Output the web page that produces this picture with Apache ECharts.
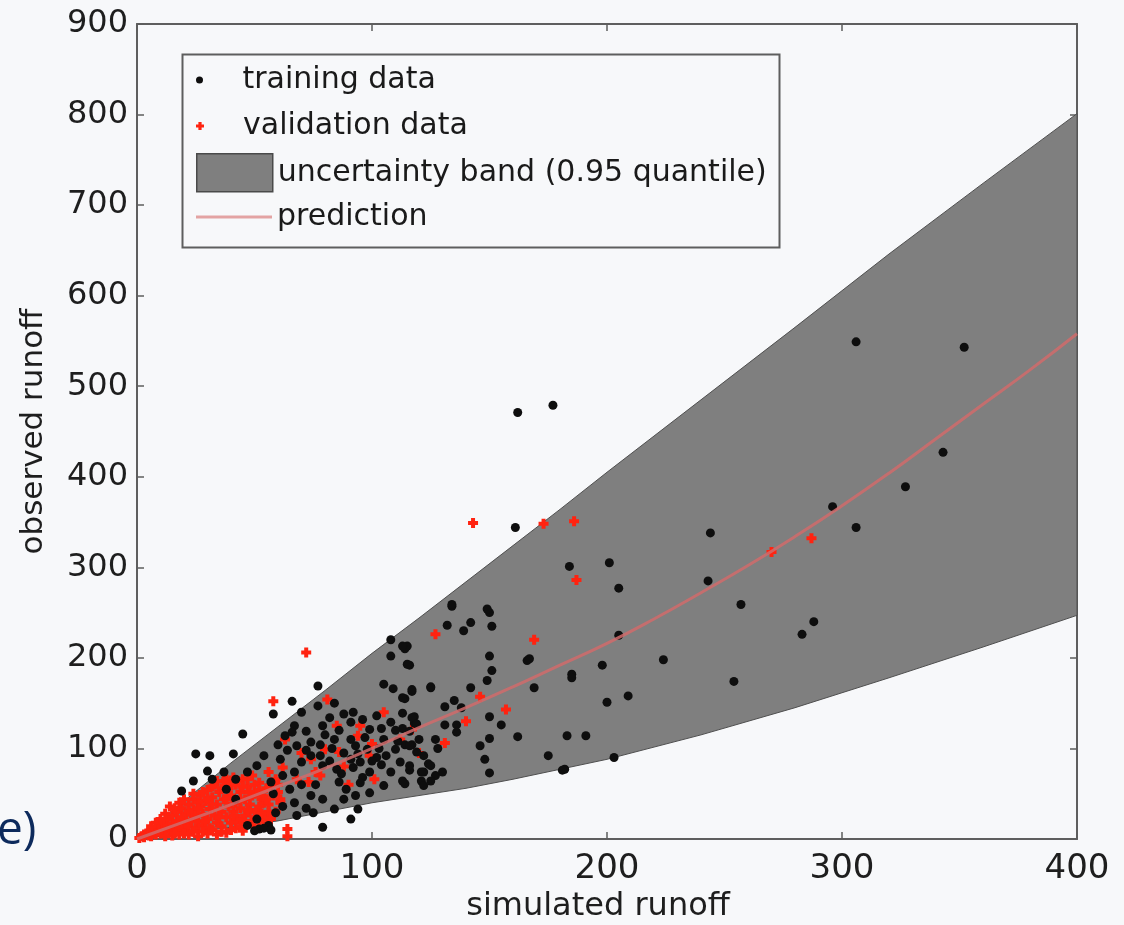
<!DOCTYPE html>
<html>
<head>
<meta charset="utf-8">
<title>observed vs simulated runoff</title>
<script src="https://cdn.jsdelivr.net/npm/echarts@6/dist/echarts.min.js"></script>
<style>
  html, body { margin: 0; padding: 0; background: #f7f8fa; }
  #chart { width: 1124px; height: 925px; }
</style>
</head>
<body>
<div id="chart"></div>
<script>
// Axis ticks
const xTicks = [0, 100, 200, 300, 400];
const yTicks = [0, 100, 200, 300, 400, 500, 600, 700, 800, 900];

// Calibration points: [simulated, observed]
const trainingPoints = [
  [306,549],[352,543],[162,471],[177,479],[161,344],[343,427],[327,389],[296,367],[306,344],
  [244,338],[243,285],[257,259],[184,301],[201,305],[205,277],[205,225],[283,226],[288,240],
  [224,198],[209,158],[185,182],[198,192],[254,174],[183,114],[191,114],[182,77],[203,90],
  [134,257],[150,250],[132,236],[142,239],[139,230],[151,235],[114,210],[116,192],[150,202],
  [166,197],[151,186],[149,175],[185,178],[125,167],[142,167],[117,163],[114,155],[169,167],
  [200,151],[135,153],[138,145],[131,146],[113,139],[118,135],[118,128],[113,122],[116,119],
  [131,126],[136,126],[150,135],[155,126],[136,118],[114,104],[117,104],[146,103],[150,111],
  [162,113],[148,88],[150,73],[175,92],[181,76],[116,76],[124,83],[122,74],[127,70],[130,74],
  [121,64],[114,61],[115,213],[149,254],[167,199],[134,259],
  [108,220],[113,213],[108,202],[115,193],[125,168],[105,171],[109,166],[117,165],[113,156],
  [77,169],[58,138],[45,116],[25,94],[31,92],[41,94],[30,75],[24,64],[19,53],[79,13],[91,22],
  [94,33],[52,11],[56,15],[67,40],[77,147],[82,134],[88,138],[91,129],[99,121],[102,136],
  [108,129],[117,134],[119,127],[120,110],[98,99],[102,90],[112,85],[116,81],[121,74],[125,64],
  [122,59],[113,64],[105,59],[99,51],[93,48],[86,63],[85,77],[92,79],[79,81],[74,92],[68,103],
  [63,114],[67,125],[72,119],[79,125],[84,110],[91,110],[93,103],[74,107],[67,74],[61,88],
  [54,92],[51,81],[57,63],[65,55],[74,48],[79,44],[84,33],[75,29],[68,26],[59,29],[51,22],
  [47,15],[42,44],[38,55],[42,66],[47,74],[37,74],[32,66],[105,110],[110,99],[99,74],[91,88],
  [108,74],[116,103],[122,92],[125,81],[62,70],[70,60],[88,95],[95,85],[83,100],[76,60],
  [89,55],[96,68],[104,82],[110,120],[70,85],[58,50],[64,98],[80,115],[97,112],[103,100],
  [86,120],[92,140],[70,140],[66,152],[84,150],[54,12],[50,9],[57,10],
  [60,104],[72,98],[78,92],[82,86],[87,72],[94,94],[100,86],[106,92],[111,108],[95,62],
  [88,44],[72,34],[62,36],[66,118],[78,104],[96,132],[104,122],[119,96],[128,100],[127,110]
];

// Validation points: [simulated, observed]
const validationPoints = [
  [72,206],[58,152],[143,349],[173,348],[186,351],[127,226],[169,220],[187,286],[270,317],
  [287,332],[157,143],[131,106],[146,157],[117,121],[64,11],[64,3],
  [57,59],[59,66],[56,74],[62,79],[68,66],[73,63],[76,74],[74,88],[80,99],[86,96],[94,114],
  [99,92],[101,66],[85,125],[81,154],[61,44],[54,40],[63,110],[49,48],
  [112,110],[120,95],[140,130],[105,140],[95,125],[100,105],[88,80],[70,95],[78,70],[90,60],
  [1,1],[2,3],[3,2],[3,5],[4,6],[5,4],[5,8],[6,3],[6,10],[7,6],[8,12],[8,5],[9,9],[10,14],
  [10,6],[11,18],[11,10],[12,8],[13,15],[13,22],[14,11],[15,26],[15,17],[16,9],[17,20],
  [17,30],[18,13],[19,24],[19,34],[20,10],[20,17],[21,28],[22,38],[22,14],[23,21],[24,32],
  [24,44],[25,12],[25,26],[26,19],[27,36],[27,48],[28,15],[28,28],[29,42],[30,22],[30,54],
  [31,33],[31,12],[32,46],[33,26],[33,60],[34,18],[34,38],[35,52],[36,30],[36,14],[37,44],
  [37,64],[38,24],[39,36],[39,56],[40,18],[40,48],[41,30],[42,60],[42,40],[43,22],[44,52],
  [44,34],[45,66],[46,44],[46,26],[47,58],[48,38],[49,70],[49,20],[50,50],[51,32],[52,62],
  [53,44],[54,26],[55,56],[56,38],[58,48],[59,30],[60,60],[61,40],
  [8,18],[12,28],[14,36],[18,40],[10,22],[6,14],[16,34],
  [15,4],[22,5],[30,6],[38,7],[45,9],[26,3],[34,5],[42,12],[50,14],[55,16],[12,3],[18,5],
  [26,40],[28,52],[30,44],[32,58],[34,64],[36,56],[38,66],[40,60],[41,68],[43,64],[45,58],
  [47,66],[48,52],[50,60],[52,54],[53,48],[24,50],[20,44],[22,30],[26,34],[32,38],[38,44],
  [44,42],[48,30],[52,36],[55,44],[56,30],[50,24],[46,18],[40,10],[36,8],[32,10],[28,8],
  [24,8],[20,6],[16,6],[44,14],[52,20],[57,22],[60,52],[58,62],[29,20],[35,24],[41,26],
  [47,32],[53,28]
];

// 0.95 quantile band edges: [simulated, observed]
const bandUpper = [
  [0,0],[20,42],[40,84],[60,124],[80,164],[100,205],[120,244],[140,284],[160,324],
  [180,364],[200,405],[240,485],[280,565],[320,646],[360,724],[400,801]
];
const bandLower = [
  [0,0],[20,6],[40,13],[60,20],[80,30],[100,40],[120,48],[140,56],[160,66],
  [180,77],[200,88],[240,115],[280,145],[320,178],[360,212],[400,247]
];

// Prediction curve: [simulated, observed]
const predictionLine = [
  [0,0],[20,19],[40,38],[60,58],[80,78],[100,100],[120,123],[140,145],[160,168],[180,192],
  [200,216],[220,243],[240,272],[260,302],[280,334],[300,368],[320,404],[340,442],[360,480],
  [380,518],[400,558]
];

const FONT = "'DejaVu Sans', 'Liberation Sans', Arial, sans-serif";
const AXIS_COLOR = '#5e5e5e';
const plusSymbol = 'path://M3,0H7V3H10V7H7V10H3V7H0V3H3Z';

function frameAxis(position, ticks, showLabel) {
  return {
    type: 'value',
    position: position,
    min: ticks[0],
    max: ticks[ticks.length - 1],
    interval: ticks[1] - ticks[0],
    axisLine: { show: true, onZero: false, lineStyle: { color: AXIS_COLOR, width: 2 } },
    axisTick: { show: true, inside: true, length: 7, lineStyle: { color: AXIS_COLOR, width: 1.5 } },
    axisLabel: { show: showLabel, fontSize: 32, color: '#1e1e1e', fontFamily: FONT },
    splitLine: { show: false }
  };
}

const xBottom = frameAxis('bottom', xTicks, true);
xBottom.axisLabel.margin = 13;
xBottom.axisLabel.fontSize = 34;
xBottom.name = 'simulated runoff';
xBottom.nameLocation = 'middle';
xBottom.nameGap = 50;
xBottom.nameTextStyle = { fontSize: 32, color: '#1e1e1e', fontFamily: FONT, padding: [0, 18, 0, 0] };

const yLeft = frameAxis('left', yTicks, true);
yLeft.axisLabel.margin = 9;
yLeft.name = 'observed runoff';
yLeft.nameLocation = 'middle';
yLeft.nameGap = 88;
yLeft.nameTextStyle = { fontSize: 31, color: '#1e1e1e', fontFamily: FONT };

const xTop = frameAxis('top', xTicks, false);
const yRight = frameAxis('right', yTicks, false);

const legendText = { fontSize: 30, color: '#1a1a1a', fontFamily: FONT };
function legendRow(item, top, w, h) {
  return {
    data: [item],
    left: 196,
    top: top,
    itemWidth: w,
    itemHeight: h,
    itemGap: 0,
    padding: 0,
    textStyle: legendText,
    selectedMode: false
  };
}

const chart = echarts.init(document.getElementById('chart'), null, { renderer: 'canvas' });
chart.setOption({
  backgroundColor: '#f7f8fa',
  animation: false,
  grid: { left: 137, right: 47, top: 24, bottom: 86, outerBoundsMode: 'none', containLabel: false },
  xAxis: [xBottom, xTop],
  yAxis: [yLeft, yRight],
  legend: [
    legendRow({ name: 'training data', icon: 'circle' }, 65, 76, 7),
    legendRow({ name: 'validation data', icon: plusSymbol }, 111, 76, 8),
    legendRow({
      name: 'uncertainty band (0.95 quantile)', icon: 'rect',
      itemStyle: { color: '#7f7f7f', borderColor: '#4a4a4a', borderWidth: 1.5 }
    }, 153, 76, 38),
    legendRow({
      name: 'prediction', icon: 'rect',
      itemStyle: { color: '#e3a3a3', borderWidth: 0 }
    }, 202, 76, 3)
  ],
  graphic: [
    {
      type: 'rect',
      left: 180, top: 52,
      shape: { width: 597, height: 193 },
      style: { fill: 'none', stroke: '#5e5e5e', lineWidth: 2 },
      z: 1
    },
    {
      type: 'text',
      left: -3, top: 808,
      style: { text: 'e)', font: "46px 'Open Sans', 'Noto Sans', sans-serif", fill: '#0d2a5c' },
      z: 1
    }
  ],
  series: [
    {
      name: 'uncertainty band (0.95 quantile)',
      type: 'custom',
      z: 1,
      data: [[0, 0]],
      itemStyle: { color: '#7f7f7f' },
      renderItem: function (params, api) {
        const pts = bandUpper.map(function (p) { return api.coord(p); })
          .concat(bandLower.slice().reverse().map(function (p) { return api.coord(p); }));
        return {
          type: 'polygon',
          shape: { points: pts },
          style: { fill: '#7f7f7f', stroke: '#4f4f4f', lineWidth: 1 }
        };
      }
    },
    {
      name: 'validation data',
      type: 'scatter',
      z: 3,
      symbol: plusSymbol,
      symbolSize: 10,
      itemStyle: { color: '#ff2310', opacity: 1 },
      data: validationPoints
    },
    {
      name: 'training data',
      type: 'scatter',
      z: 4,
      symbol: 'circle',
      symbolSize: 9,
      itemStyle: { color: '#0e0e0e', opacity: 1 },
      data: trainingPoints
    },
    {
      name: 'prediction',
      type: 'line',
      z: 5,
      showSymbol: false,
      symbol: 'none',
      smooth: true,
      lineStyle: { color: '#d06b6b', width: 3, opacity: 0.85 },
      data: predictionLine
    }
  ]
});
</script>
</body>
</html>
